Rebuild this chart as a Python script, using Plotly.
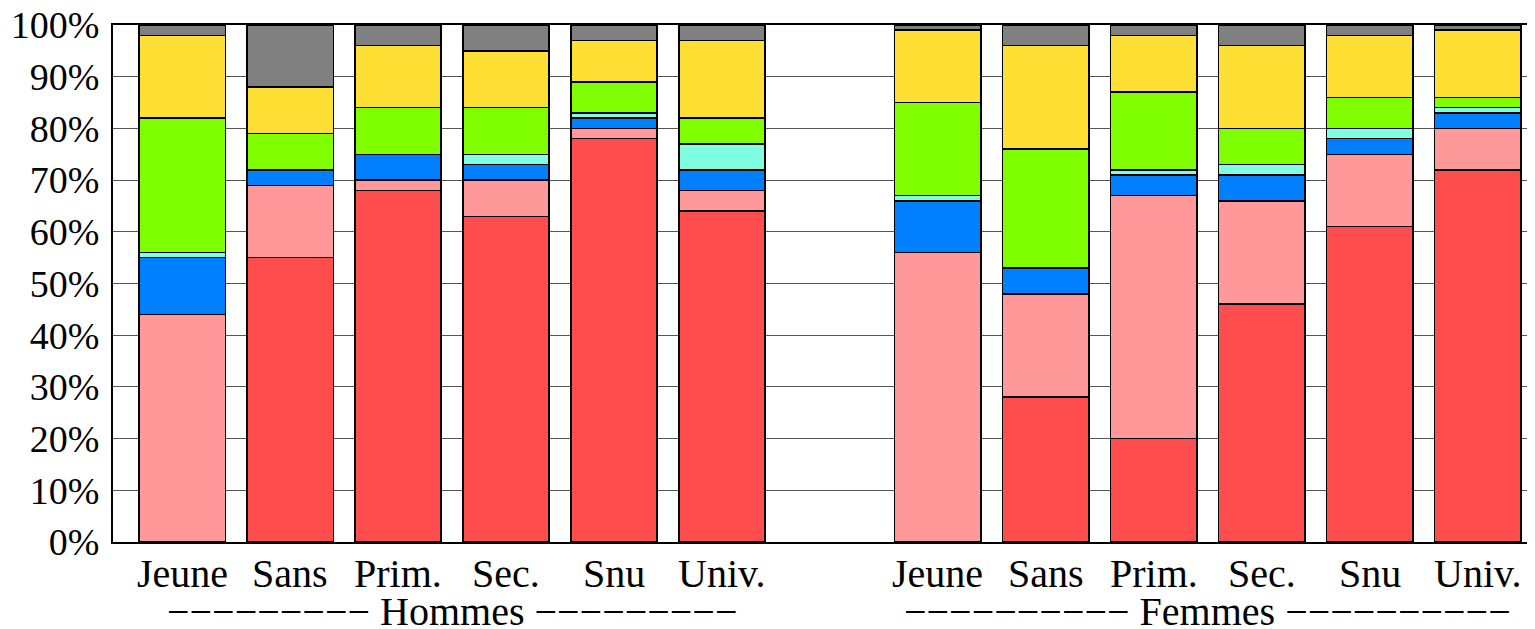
import plotly.graph_objects as go

categories = ["Jeune", "Sans", "Prim.", "Sec.", "Snu", "Univ."]
groups = ["Hommes", "Femmes"]

# segment sizes (%), bottom to top, Hommes then Femmes
red    = [0, 55, 68, 63, 78, 64,   0, 28, 20, 46, 61, 72]
pink   = [44, 14, 2, 7, 2, 4,      56, 20, 47, 20, 14, 8]
blue   = [11, 3, 5, 3, 2, 4,       10, 5, 4, 5, 3, 3]
cyan   = [1, 0, 0, 2, 1, 5,        1, 0, 1, 2, 2, 1]
green  = [26, 7, 9, 9, 6, 5,       18, 23, 15, 7, 6, 2]
yellow = [16, 9, 12, 11, 8, 15,    14, 20, 11, 16, 12, 13]
gray   = [2, 12, 4, 5, 3, 3,       1, 4, 2, 4, 2, 1]

yticks = list(range(0, 101, 10))
yticklabels = [f"{v}%" for v in yticks]

series = [
    ("red", red, "#FF4C4C"),
    ("pink", pink, "#FF9999"),
    ("blue", blue, "#007FFF"),
    ("cyan", cyan, "#7FFFE0"),
    ("green", green, "#7FFF00"),
    ("yellow", yellow, "#FFDF33"),
    ("gray", gray, "#808080"),
]

# positions: 6 bars, one empty slot, 6 bars
xpos = list(range(6)) + list(range(7, 13))
ticktext = categories + categories

FONT = "Liberation Serif, Times New Roman, serif"

fig = go.Figure()
for name, vals, col in series:
    fig.add_trace(go.Bar(
        x=xpos, y=vals, name=name, width=0.8,
        marker=dict(color=col, line=dict(color="black", width=1.5)),
        showlegend=False,
    ))

# page body has an 8px default margin: compensate
fig.update_layout(
    barmode="stack",
    width=1527, height=621,
    margin=dict(l=105, r=0, t=17, b=87, autoexpand=False),
    paper_bgcolor="white", plot_bgcolor="white",
    font=dict(family=FONT, size=38, color="black"),
)
fig.update_xaxes(
    range=[-0.64, 12.53],
    showticklabels=False,
    showgrid=False, zeroline=False,
    showline=True, linecolor="black", linewidth=2, mirror=True,
    ticks="",
)
fig.update_yaxes(
    range=[0, 100], tickvals=yticks, ticktext=yticklabels,
    showgrid=True, gridcolor="#555555", gridwidth=1,
    zeroline=False,
    showline=True, linecolor="black", linewidth=2,
    ticks="", ticklabelstandoff=4, ticklabeloverflow="allow",
    tickfont=dict(family=FONT, size=38, color="black"),
)

for xv, lab in zip(xpos, ticktext):
    fig.add_annotation(
        x=xv, xref="x", y=-0.06, yref="paper",
        text=lab, showarrow=False, yanchor="middle", xanchor="center",
        font=dict(family=FONT, size=40, color="black"),
    )

dash9 = "\u2212" * 9
dash10 = "\u2212" * 10
for gx, label in [(2.5, dash9 + " " + groups[0] + " " + dash9),
                  (9.5, dash10 + " " + groups[1] + " " + dash10)]:
    fig.add_annotation(
        x=gx, xref="x", y=-0.134, yref="paper",
        text=label, showarrow=False, yanchor="middle", xanchor="center",
        font=dict(family=FONT, size=40, color="black"),
    )

fig.write_html("out.html")
